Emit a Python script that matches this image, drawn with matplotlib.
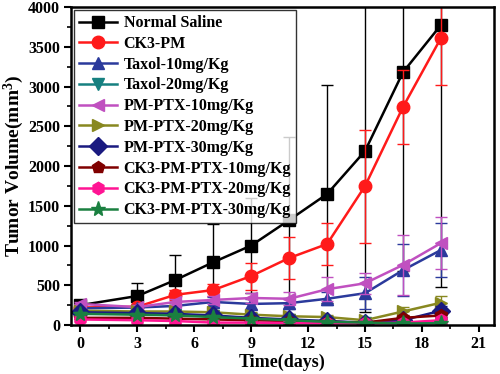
import matplotlib
matplotlib.use("Agg")
import matplotlib.pyplot as plt
from matplotlib.ticker import MultipleLocator

days = [0, 3, 5, 7, 9, 11, 13, 15, 17, 19]

names = ["Normal Saline", "CK3-PM", "Taxol-10mg/Kg", "Taxol-20mg/Kg",
         "PM-PTX-10mg/Kg", "PM-PTX-20mg/Kg", "PM-PTX-30mg/Kg",
         "CK3-PM-PTX-10mg/Kg", "CK3-PM-PTX-20mg/Kg", "CK3-PM-PTX-30mg/Kg"]

normal_saline = [250, 365, 566, 790, 1000, 1320, 1648, 2189, 3180, 3774]
ck3_pm = [220, 230, 380, 440, 616, 843, 1019, 1748, 2742, 3610]
taxol_10 = [210, 220, 240, 290, 265, 275, 330, 400, 690, 943]
taxol_20 = [150, 140, 130, 110, 70, 60, 40, 30, 30, 30]
pm_ptx_10 = [265, 225, 290, 315, 340, 330, 450, 525, 755, 1030]
pm_ptx_20 = [180, 170, 170, 160, 130, 110, 100, 60, 170, 280]
pm_ptx_30 = [160, 150, 140, 120, 90, 70, 50, 30, 60, 180]
ck3_ptx_10 = [90, 90, 80, 70, 60, 50, 40, 30, 90, 120]
ck3_ptx_20 = [70, 60, 50, 30, 30, 25, 20, 20, 30, 60]
ck3_ptx_30 = [140, 130, 120, 100, 80, 60, 40, 30, 20, 20]

err_normal = [40, 160, 315, 480, 600, 1045, 1370, 2030, 2500, 3296]
err_ck3 = [30, 40, 60, 80, 170, 265, 265, 710, 470, 590]
err_taxol10 = [30, 30, 40, 60, 60, 70, 80, 200, 330, 340]
err_taxol20 = [20, 20, 20, 20, 20, 20, 20, 20, 20, 20]
err_ptx10 = [30, 30, 40, 50, 60, 80, 150, 130, 375, 330]
err_ptx20 = [20, 20, 20, 30, 30, 30, 30, 30, 60, 80]
err_ptx30 = [20, 20, 20, 20, 20, 20, 20, 20, 40, 60]
err_c10 = [20, 20, 20, 20, 20, 20, 20, 20, 30, 40]
err_c20 = [20, 20, 20, 20, 20, 20, 20, 20, 20, 30]
err_c30 = [20, 20, 20, 20, 20, 20, 20, 20, 20, 20]

values = [normal_saline, ck3_pm, taxol_10, taxol_20, pm_ptx_10, pm_ptx_20,
          pm_ptx_30, ck3_ptx_10, ck3_ptx_20, ck3_ptx_30]
errors = [err_normal, err_ck3, err_taxol10, err_taxol20, err_ptx10, err_ptx20,
          err_ptx30, err_c10, err_c20, err_c30]
colors = ["#000000", "#ff1a1a", "#2b3a9c", "#168080", "#c050c0", "#888820",
          "#1a1a80", "#800000", "#ff1493", "#1a8040"]
markers = ["s", "o", "^", "v", "<", ">", "D", "p", "h", "*"]

plt.rcParams['font.family'] = ['Liberation Serif', 'DejaVu Serif']
plt.rcParams['font.weight'] = 'bold'
plt.rcParams['mathtext.fontset'] = 'custom'
plt.rcParams['mathtext.rm'] = 'Liberation Serif:bold'
plt.rcParams['mathtext.it'] = 'Liberation Serif:bold'
plt.rcParams['mathtext.bf'] = 'Liberation Serif:bold'

fig = plt.figure(figsize=(5.0, 3.74), dpi=100)
ax = fig.add_axes([0.142, 0.131, 0.846, 0.850])

for name, v, e, c, m in zip(names, values, errors, colors, markers):
    ms = 9 if m != "*" else 11
    ax.errorbar(days, v, yerr=e, fmt='none', ecolor=c, elinewidth=1.0,
                capsize=4, capthick=1.0)
    ax.plot(days, v, color=c, marker=m, markersize=ms, linewidth=1.8,
            label=name, markeredgecolor=c)

ax.set_xlim(-0.5, 21.8)
ax.set_ylim(0, 4000)
ax.xaxis.set_major_locator(MultipleLocator(3))
ax.xaxis.set_minor_locator(MultipleLocator(1.5))
ax.yaxis.set_major_locator(MultipleLocator(500))
ax.yaxis.set_minor_locator(MultipleLocator(250))
ax.tick_params(which='major', direction='out', length=5, width=1.5,
               labelsize=11.5, top=False, right=False, pad=3)
ax.tick_params(which='minor', direction='out', length=3, width=1.2,
               top=False, right=False)
for lbl in ax.get_xticklabels() + ax.get_yticklabels():
    lbl.set_fontweight('bold')
for s in ax.spines.values():
    s.set_linewidth(1.8)

ax.set_xlabel("Time(days)", fontsize=13, fontweight='bold', labelpad=1)
ax.set_ylabel("Tumor Volume(mm$^3$)", fontsize=14, fontweight='bold', labelpad=1)

leg = ax.legend(loc='upper left', frameon=True, fancybox=False,
                edgecolor='black', handlelength=2.4, labelspacing=0.3,
                borderpad=0.3, handletextpad=0.4, borderaxespad=0.2,
                prop={'weight': 'bold', 'size': 11.5})
leg.get_frame().set_linewidth(1.0)

fig.savefig("out.png", dpi=100)
